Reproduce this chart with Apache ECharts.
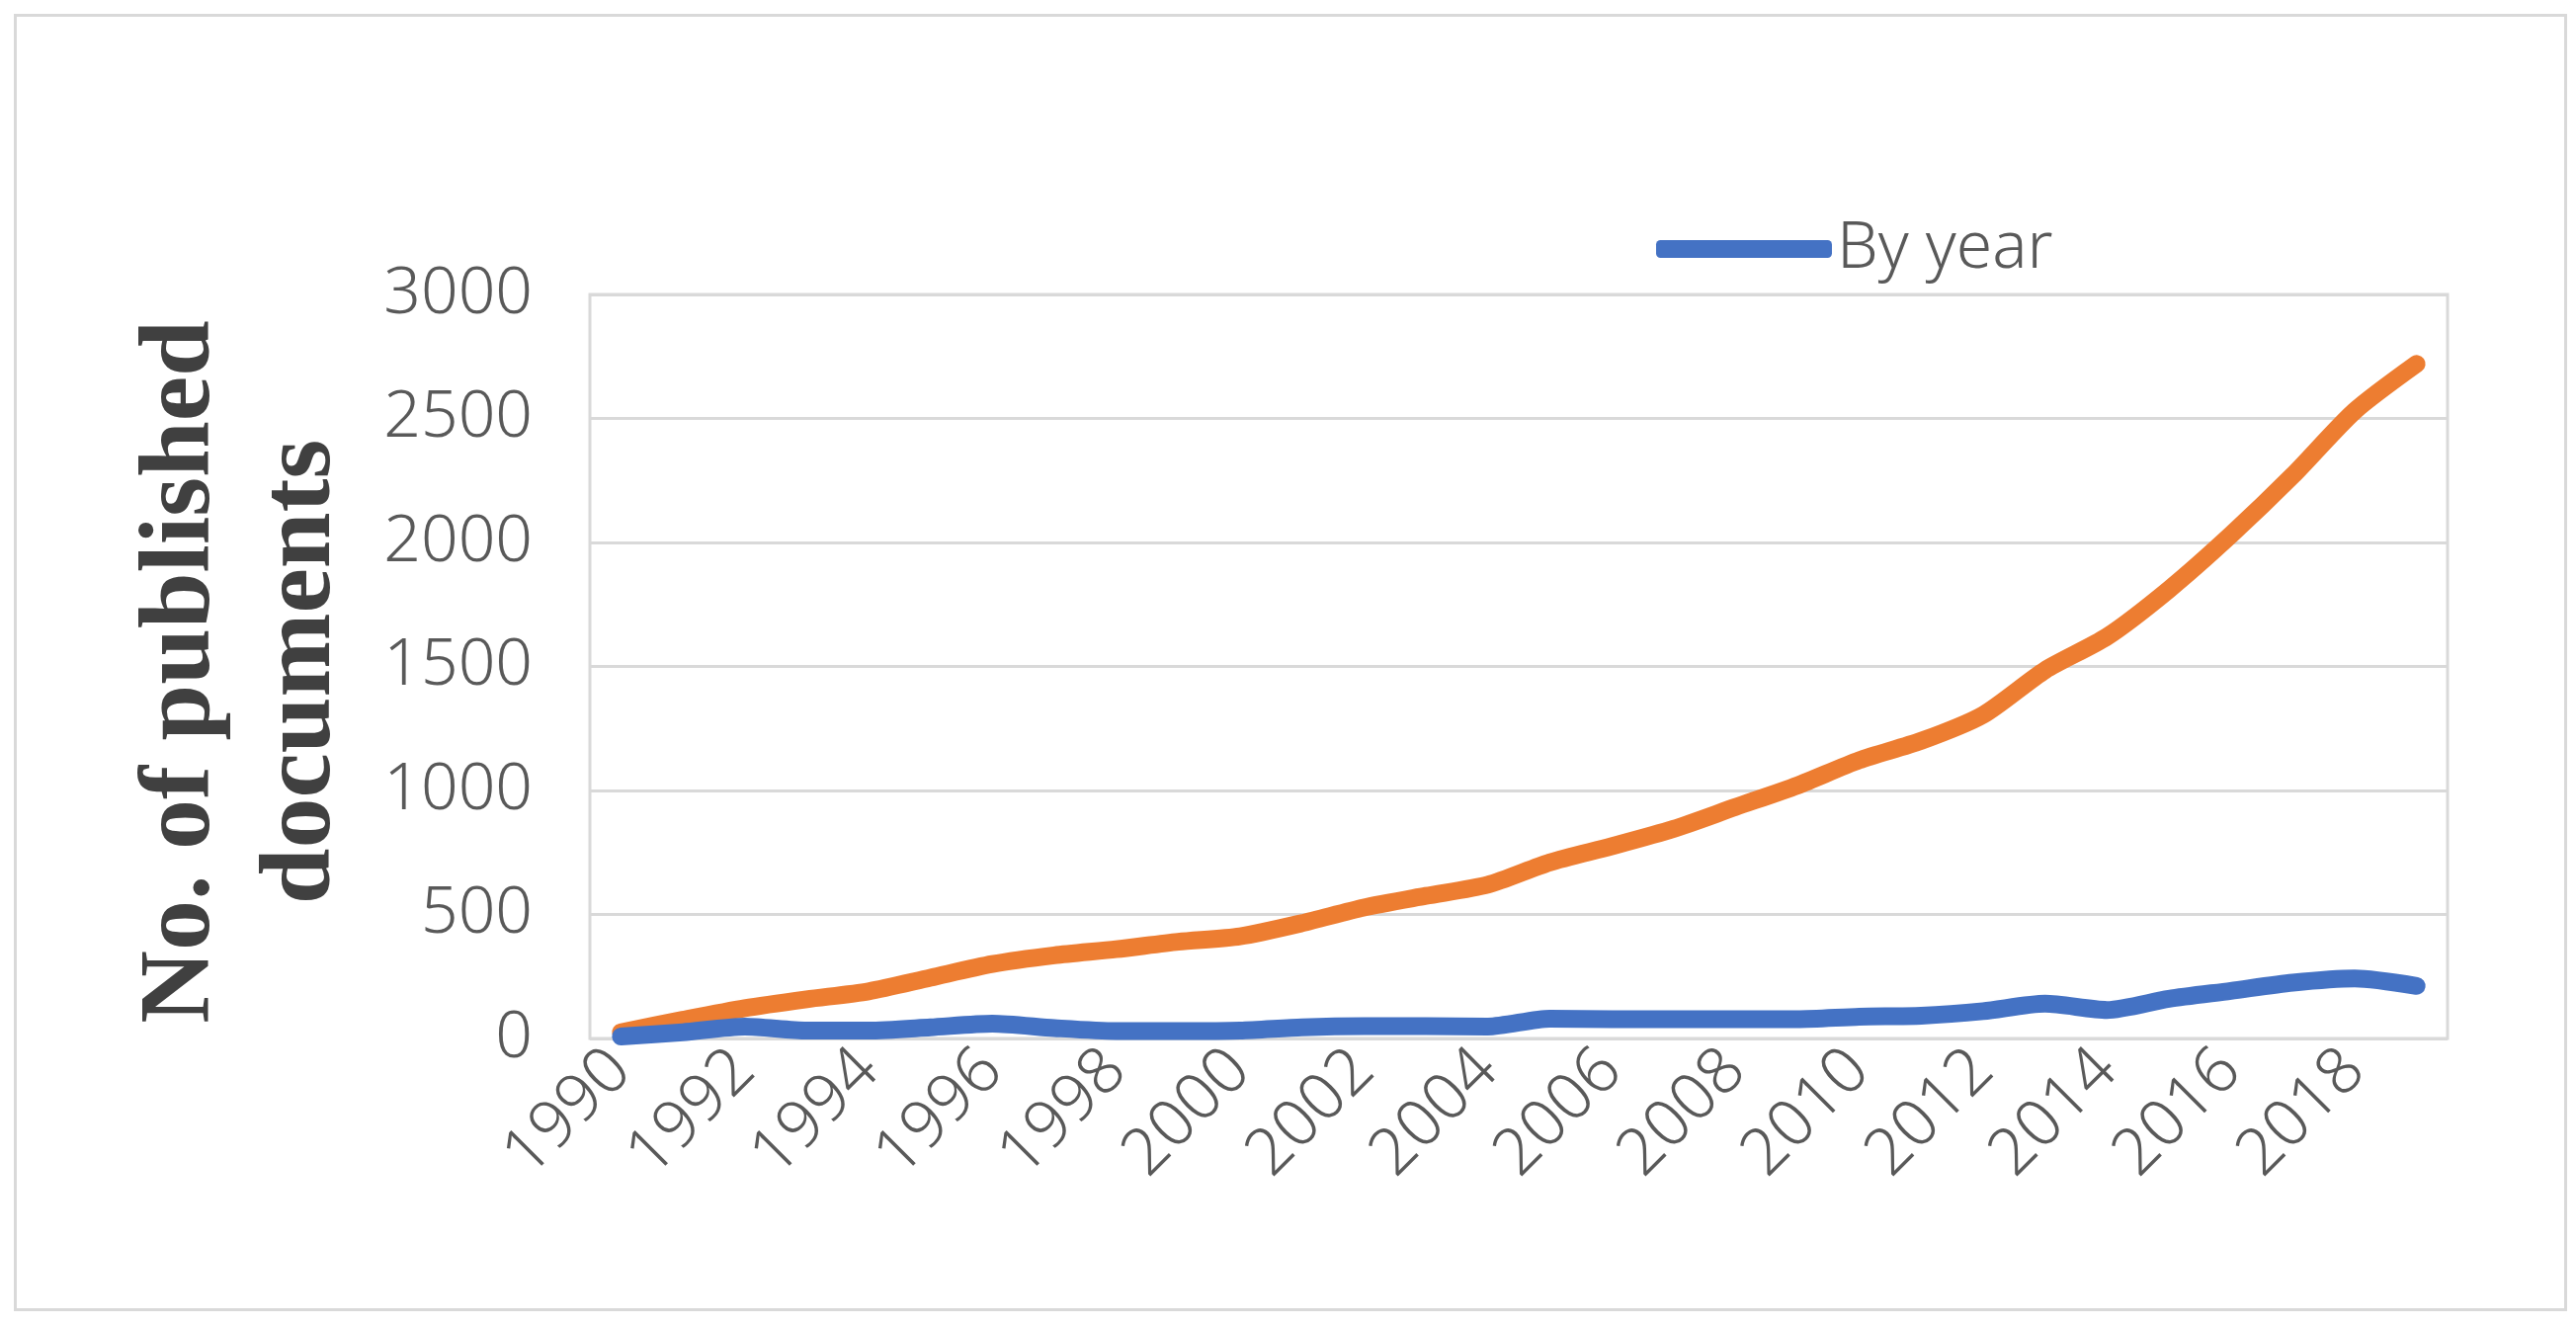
<!DOCTYPE html>
<html>
<head>
<meta charset="utf-8">
<script src="https://cdn.jsdelivr.net/npm/echarts@6/dist/echarts.min.js"></script>
<style>
html,body{margin:0;padding:0;background:#fff;}
#chart{width:2607px;height:1342px;}
</style>
</head>
<body>
<div id="chart"></div>
<script>
const years = ['1990','1991','1992','1993','1994','1995','1996','1997','1998','1999','2000','2001','2002','2003','2004','2005','2006','2007','2008','2009','2010','2011','2012','2013','2014','2015','2016','2017','2018','2019'];
const byYear = [8,25,48,32,32,45,60,42,30,30,32,45,50,50,48,80,78,78,78,78,88,92,110,140,115,160,192,225,242,212];
const cumulative = [25,75,122,158,190,245,300,335,360,390,412,465,528,575,620,710,775,845,933,1020,1122,1200,1305,1485,1620,1810,2030,2270,2530,2720];
const yTicks = {min:0, max:3000, interval:500};
const yTitle = 'No. of published\ndocuments';

const chart = echarts.init(document.getElementById('chart'));
const labelFont = '"Noto Sans", "Open Sans", sans-serif';
chart.setOption({
  animation:false,
  backgroundColor:'#fff',
  grid:{left:597, top:298, right:130, bottom:291, show:true, borderColor:'#d9d9d9', borderWidth:3, backgroundColor:'transparent'},
  legend:{
    data:['By year'], left:1671, top:214, itemWidth:178, itemHeight:18, itemGap:20,
    textStyle:{fontSize:66, color:'#595959', fontFamily:labelFont, fontWeight:300, padding:[0,0,0,0]},
    icon:'roundRect'
  },
  xAxis:{
    type:'category', data:years, boundaryGap:true,
    axisLine:{show:false}, axisTick:{show:false},
    axisLabel:{interval:1, rotate:45, margin:22, fontSize:66, color:'#595959', fontFamily:labelFont, fontWeight:300},
    splitLine:{show:false}
  },
  yAxis:{
    type:'value', min:yTicks.min, max:yTicks.max, interval:yTicks.interval,
    axisLine:{show:false}, axisTick:{show:false},
    axisLabel:{margin:58, fontSize:66, color:'#595959', fontFamily:labelFont, fontWeight:300, formatter:function(v){return String(v);}},
    splitLine:{lineStyle:{color:'#d9d9d9', width:3}}
  },
  graphic:[
    {type:'rect', left:13, top:13, shape:{width:2581, height:1310}, style:{fill:'none', stroke:'#d9d9d9', lineWidth:3}, z:-1},
    {type:'text', x:246, y:680, rotation:Math.PI/2,
     style:{text:yTitle, fontSize:102, fontWeight:'bold', fontFamily:'"Liberation Serif", "Times New Roman", serif', fill:'#404040', align:'center', verticalAlign:'middle', lineHeight:122}}
  ],
  series:[
    {name:'By year', type:'line', data:byYear, smooth:0.25, showSymbol:false,
     lineStyle:{color:'#4472C4', width:18, cap:'round', join:'round'}, itemStyle:{color:'#4472C4'}, z:3},
    {name:'Cumulative', type:'line', data:cumulative, smooth:0.25, showSymbol:false,
     lineStyle:{color:'#ED7D31', width:18, cap:'round', join:'round'}, itemStyle:{color:'#ED7D31'}, z:2}
  ]
});
</script>
</body>
</html>
